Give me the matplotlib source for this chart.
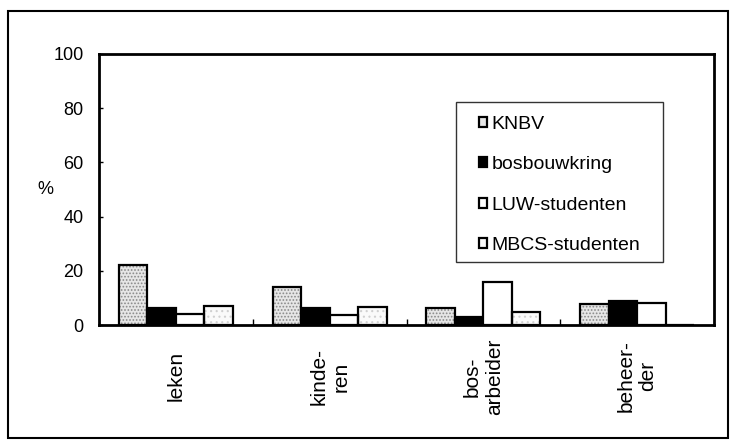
import matplotlib
matplotlib.use("Agg")
import matplotlib.pyplot as plt
from matplotlib.patches import Rectangle, Patch
import numpy as np

plt.rcParams['font.family'] = ['Liberation Sans', 'DejaVu Sans']
plt.rcParams['hatch.linewidth'] = 0.8

categories = ['leken', 'kinde-\nren', 'bos-\narbeider', 'beheer-\nder']
series_names = ['KNBV', 'bosbouwkring', 'LUW-studenten', 'MBCS-studenten']
knbv = [22.0, 14.0, 6.2, 7.7]
bosbouwkring = [6.2, 6.2, 3.1, 8.9]
luw = [4.1, 3.8, 16.0, 8.0]
mbcs = [6.9, 6.8, 4.7, 0.0]
yticks = [0, 20, 40, 60, 80, 100]

series = [knbv, bosbouwkring, luw, mbcs]
faces = ['#e6e6e6', '#000000', '#ffffff', '#fafafa']
hatches = ['.....', None, None, '...']
hatch_cols = ['#8a8a8a', None, None, '#d0d0d0']

fig = plt.figure(figsize=(7.36, 4.48), dpi=100)
ax = fig.add_axes([99/736, 1-325/448, (714-99)/736, (325-54)/448])

x = np.arange(len(categories))
w = 0.185
for k, (vals, fc, h, hc) in enumerate(zip(series, faces, hatches, hatch_cols)):
    pos = x + (k - 1.5) * w
    if h:
        ax.bar(pos, vals, w, color=fc, hatch=h, edgecolor=hc, linewidth=0, zorder=2)
        ax.bar(pos, vals, w, facecolor='none', edgecolor='black', linewidth=1.6, zorder=3)
    else:
        ax.bar(pos, vals, w, color=fc, edgecolor='black', linewidth=1.6, zorder=3)

ax.set_xlim(-0.5, len(categories) - 0.5)
ax.set_ylim(0, 100)
ax.set_yticks(yticks)
ax.set_yticklabels([str(v) for v in yticks], fontsize=13)
ax.tick_params(axis='y', direction='in', length=3, width=1, pad=11)

ax.set_xticks(x)
ax.set_xticklabels(categories, fontsize=15, rotation=90, va='center', ha='center',
                   multialignment='center')
ax.tick_params(axis='x', which='major', length=0, pad=37)
ax.set_xticks(np.arange(len(categories) - 1) + 0.5, minor=True)
ax.tick_params(axis='x', which='minor', direction='in', length=4, width=1)

for s in ax.spines.values():
    s.set_linewidth(2)
    s.set_zorder(4)

ax.set_ylabel('%', rotation=0, fontsize=13, ha='center', va='center')
ax.yaxis.set_label_coords(-(99-45)/615, 0.5)

# legend frame and entries
fig.patches.append(Rectangle((456/736, 1-262/448), 207/736, 160/448,
                             transform=fig.transFigure, fill=False,
                             edgecolor='#333333', linewidth=1))
handles = [Patch(facecolor=fc, edgecolor='black', linewidth=1.6) for fc in faces]
fig.legend(handles, series_names, loc='upper left',
           bbox_to_anchor=(479/736, 1-116/448), frameon=False, fontsize=14,
           borderpad=0, borderaxespad=0, handlelength=0.43, handleheight=0.43,
           handletextpad=0.2, labelspacing=1.2)

# outer frame
fig.patches.append(Rectangle((8/736, 1-438/448), 720/736, 427/448,
                             transform=fig.transFigure, fill=False,
                             edgecolor='black', linewidth=1.5))

fig.savefig('out.png', dpi=100)
